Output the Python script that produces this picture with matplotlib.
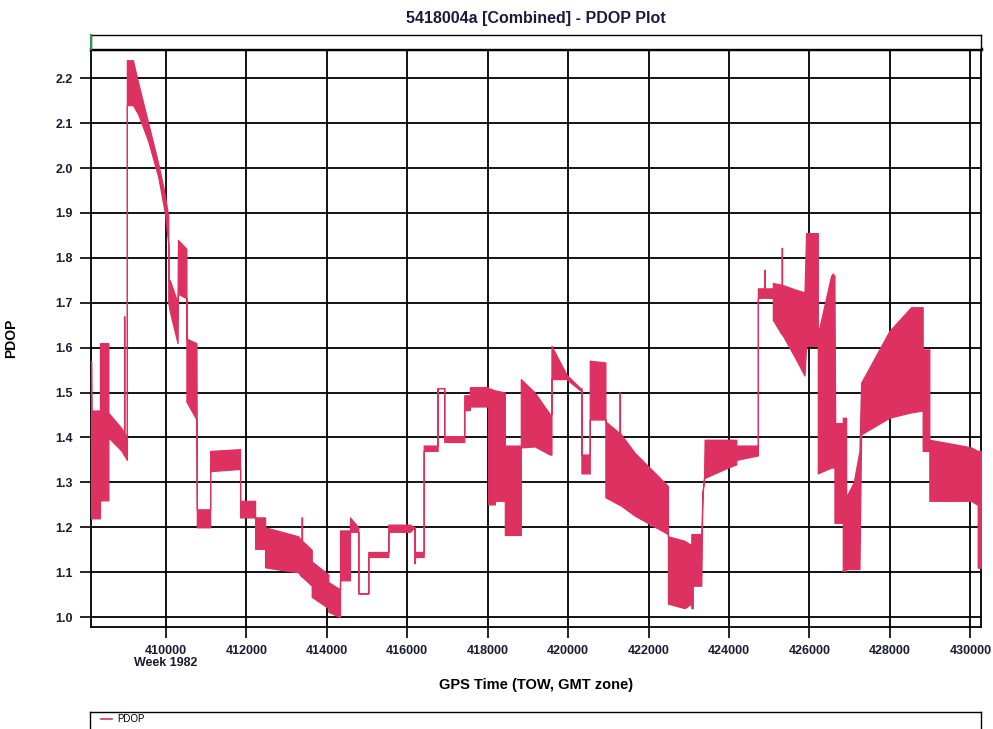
import matplotlib.pyplot as plt
from matplotlib.lines import Line2D

plt.rcParams['font.family'] = ['Liberation Sans', 'DejaVu Sans']

# GPS time of week and the low/high envelope of the PDOP trace
tow = [408140, 408150, 408360, 408360, 408570, 408570, 408900, 408960, 408960, 408970, 408970, 409030,
       409030, 409180, 409310, 409560, 409810, 409975, 410060, 410060, 410100, 410290, 410300, 410510,
       410510, 410760, 410770, 411100, 411100, 411845, 411845, 412218, 412218, 412466, 412466, 412880,
       413290, 413370, 413370, 413385, 413385, 413626, 413626, 414039, 414039, 414329, 414329, 414577,
       414577, 414784, 414784, 415032, 415032, 415530, 415530, 416068, 416180, 416180, 416200, 416410,
       416410, 416755, 416755, 416920, 416920, 417417, 417417, 417557, 417557, 418012, 418012, 418180,
       418180, 418427, 418427, 418824, 418824, 419172, 419544, 419586, 419586, 419959, 420300, 420331,
       420331, 420538, 420538, 420927, 420927, 421275, 421275, 421290, 421290, 421655, 422482, 422482,
       422897, 423063, 423063, 423100, 423100, 423311, 423340, 423380, 423394, 423973, 424180, 424180,
       424718, 424718, 424875, 424875, 424890, 424890, 425090, 425090, 425305, 425305, 425320, 425320,
       425629, 425877, 425918, 426208, 426208, 426539, 426580, 426622, 426622, 426640, 426829, 426829,
       426912, 426912, 427100, 427243, 427285, 427988, 428527, 428815, 428815, 428981, 428981, 429600,
       430017, 430183, 430183, 430265]
pdop_lo = [1.22, 1.22, 1.22, 1.26, 1.26, 1.40, 1.37, 1.36, 1.36, 1.36, 1.36, 1.35,
           2.14, 2.14, 2.12, 2.06, 1.98, 1.90, 1.83, 1.70, 1.68, 1.61, 1.72, 1.71,
           1.48, 1.44, 1.20, 1.20, 1.325, 1.33, 1.222, 1.222, 1.152, 1.152, 1.111, 1.105,
           1.10, 1.09, 1.09, 1.09, 1.09, 1.07, 1.045, 1.02, 1.012, 1.00, 1.082, 1.082,
           1.19, 1.19, 1.053, 1.053, 1.134, 1.134, 1.19, 1.19, 1.20, 1.12, 1.134, 1.134,
           1.37, 1.37, 1.51, 1.51, 1.39, 1.39, 1.461, 1.461, 1.469, 1.469, 1.251, 1.251,
           1.259, 1.259, 1.183, 1.183, 1.378, 1.38, 1.362, 1.362, 1.53, 1.53, 1.505, 1.505,
           1.32, 1.32, 1.44, 1.44, 1.267, 1.25, 1.25, 1.25, 1.25, 1.226, 1.185, 1.03,
           1.02, 1.03, 1.02, 1.02, 1.07, 1.07, 1.275, 1.31, 1.31, 1.333, 1.34, 1.35,
           1.36, 1.711, 1.711, 1.711, 1.711, 1.711, 1.711, 1.662, 1.63, 1.63, 1.63, 1.63,
           1.58, 1.538, 1.604, 1.604, 1.32, 1.333, 1.333, 1.333, 1.21, 1.21, 1.21, 1.103,
           1.103, 1.107, 1.107, 1.107, 1.407, 1.444, 1.456, 1.46, 1.37, 1.37, 1.259, 1.259,
           1.259, 1.25, 1.11, 1.11]
pdop_hi = [1.57, 1.46, 1.46, 1.61, 1.61, 1.455, 1.42, 1.41, 1.67, 1.67, 1.41, 1.40,
           2.24, 2.24, 2.19, 2.10, 2.01, 1.94, 1.89, 1.75, 1.75, 1.70, 1.84, 1.82,
           1.62, 1.61, 1.24, 1.24, 1.37, 1.374, 1.259, 1.259, 1.222, 1.222, 1.20, 1.19,
           1.18, 1.17, 1.222, 1.222, 1.17, 1.15, 1.124, 1.095, 1.078, 1.062, 1.193, 1.193,
           1.222, 1.20, 1.053, 1.053, 1.145, 1.145, 1.206, 1.206, 1.20, 1.12, 1.145, 1.145,
           1.382, 1.382, 1.51, 1.51, 1.403, 1.403, 1.494, 1.494, 1.512, 1.512, 1.51, 1.505,
           1.505, 1.50, 1.382, 1.382, 1.53, 1.50, 1.452, 1.452, 1.604, 1.54, 1.51, 1.51,
           1.362, 1.362, 1.571, 1.567, 1.436, 1.41, 1.50, 1.50, 1.41, 1.366, 1.292, 1.18,
           1.17, 1.16, 1.185, 1.185, 1.185, 1.185, 1.275, 1.31, 1.395, 1.395, 1.395, 1.382,
           1.382, 1.732, 1.732, 1.773, 1.773, 1.732, 1.732, 1.744, 1.74, 1.822, 1.822, 1.74,
           1.73, 1.723, 1.855, 1.855, 1.629, 1.76, 1.765, 1.76, 1.732, 1.432, 1.432, 1.444,
           1.444, 1.267, 1.30, 1.37, 1.522, 1.637, 1.69, 1.69, 1.596, 1.596, 1.395, 1.385,
           1.378, 1.37, 1.37, 1.37]

xticks = [410000, 412000, 414000, 416000, 418000, 420000, 422000, 424000, 426000, 428000, 430000]
xtick_labels = ['410000\nWeek 1982', '412000', '414000', '416000', '418000', '420000',
                '422000', '424000', '426000', '428000', '430000']
yticks = [1.0, 1.1, 1.2, 1.3, 1.4, 1.5, 1.6, 1.7, 1.8, 1.9, 2.0, 2.1, 2.2]

color = '#dc3161'

fig = plt.figure(figsize=(9.93, 7.29), dpi=100)
ax = fig.add_axes([0.0916, 0.1399, 0.8963, 0.7929])

ax.fill_between(tow, pdop_lo, pdop_hi, facecolor=color, edgecolor=color, linewidth=0.9, zorder=3)

ax.set_xlim(408137, 430265)
ax.set_ylim(0.978, 2.265)
ax.set_xticks(xticks)
ax.set_xticklabels(xtick_labels, fontsize=9, fontweight='bold', linespacing=1.0, color='#1a1a30')
ax.set_yticks(yticks)
ax.set_yticklabels([f'{v:.1f}' for v in yticks], fontsize=9, fontweight='bold', color='#1a1a30')
ax.tick_params(axis='x', direction='out', length=8, width=1.2, color='black', pad=5)
ax.tick_params(axis='y', direction='out', length=8, width=1.2, color='black', pad=5)
ax.grid(True, color='black', linewidth=1.3)
ax.set_axisbelow(True)
for side in ['left', 'right', 'bottom']:
    ax.spines[side].set_linewidth(1.3)
ax.spines['top'].set_linewidth(2.5)

ax.set_xlabel('GPS Time (TOW, GMT zone)', fontsize=10.5, fontweight='bold')
ax.xaxis.set_label_coords(0.5, -0.088)
ax.set_ylabel('PDOP', fontsize=10, fontweight='bold')
ax.yaxis.set_label_coords(-0.082, 0.5)

# empty strip above the plot
strip = fig.add_axes([0.0916, 0.9328, 0.8963, 0.019])
strip.set_xticks([])
strip.set_yticks([])
for s in strip.spines.values():
    s.set_linewidth(1.0)
fig.add_artist(Line2D([0.0914, 0.0914], [0.9328, 0.952], color='#1aa050', linewidth=1.5))

fig.text(0.54, 0.975, '5418004a [Combined] - PDOP Plot', ha='center', va='center',
         fontsize=11.5, fontweight='bold', color='#1a1a40')

# legend box at the bottom
leg = fig.add_axes([0.0906, -0.05, 0.8975, 0.073])
leg.set_xticks([])
leg.set_yticks([])
leg.set_xlim(0, 1)
leg.set_ylim(0, 1)
for s in leg.spines.values():
    s.set_linewidth(1.0)
leg.plot([0.012, 0.025], [0.87, 0.87], color=color, linewidth=1.2)
leg.text(0.031, 0.87, 'PDOP', fontsize=7, va='center', ha='left')

fig.savefig('out.png', dpi=100)
